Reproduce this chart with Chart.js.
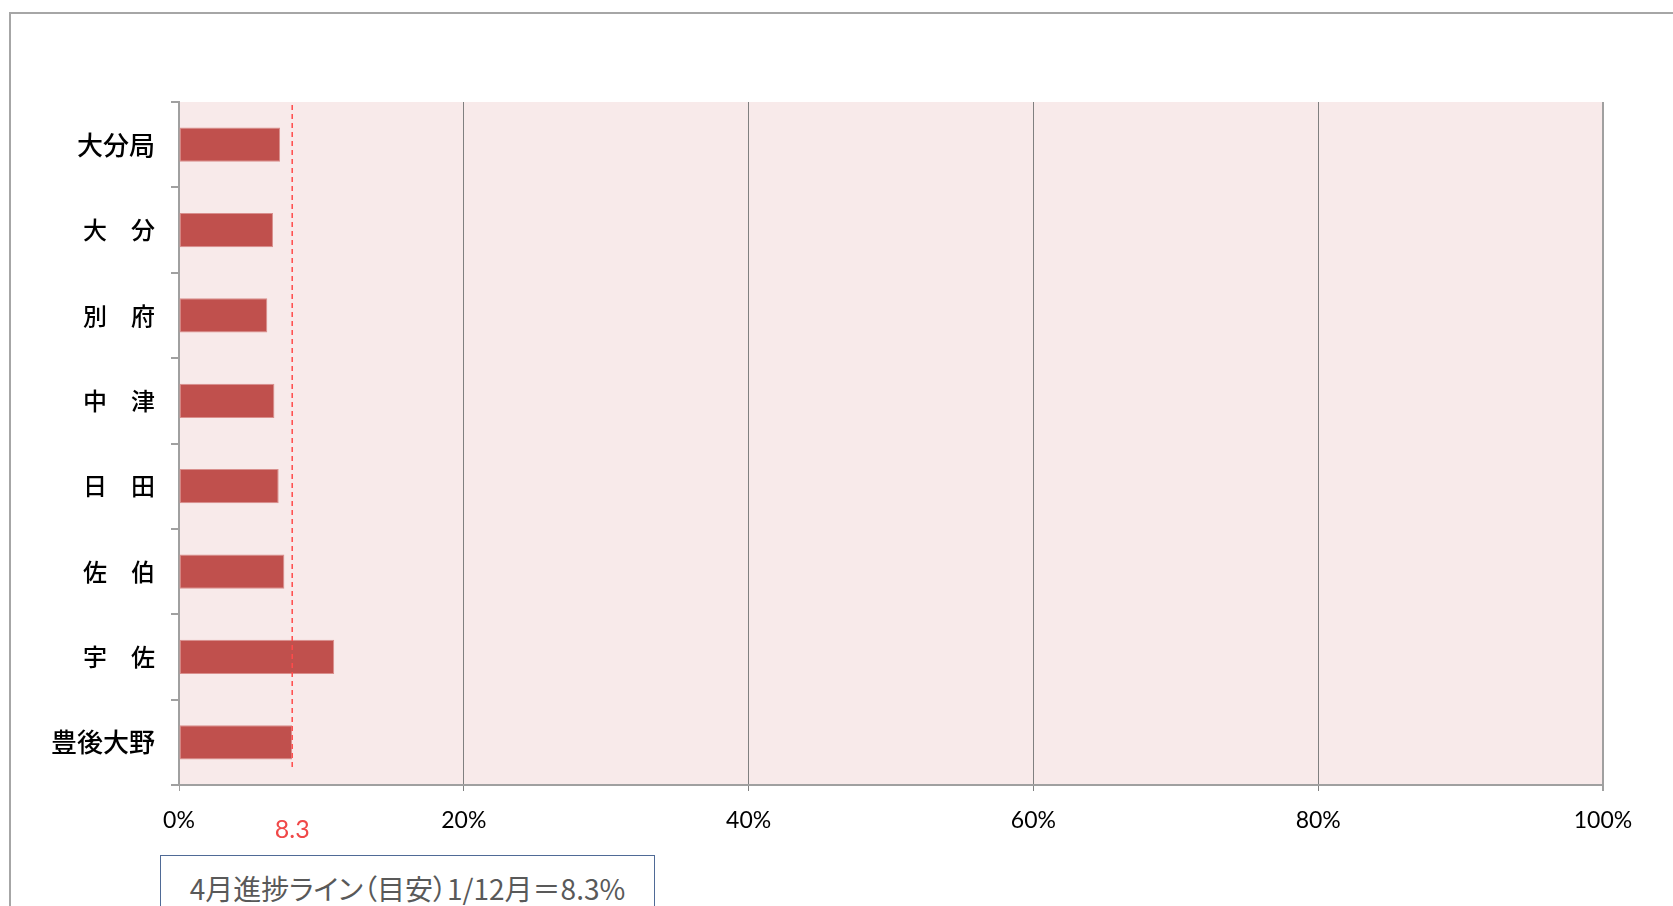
<!DOCTYPE html>
<html>
<head>
<meta charset="utf-8">
<script src="https://cdn.jsdelivr.net/npm/chart.js@4"></script>
<style>
  html,body{margin:0;padding:0;background:#fff;overflow:hidden;}
  #wrap{position:relative;width:1673px;height:906px;}
  #frame{position:absolute;left:9px;top:12px;width:1700px;height:1000px;border-top:2px solid #a6a6a6;border-left:2px solid #a6a6a6;pointer-events:none;}
  #note{position:absolute;left:160px;top:855px;width:495px;height:70px;border:1px solid #4f6a96;background:#fff;
        font-family:"Noto Sans CJK JP","Noto Sans",sans-serif;font-size:28px;color:#595959;text-align:center;line-height:64px;box-sizing:border-box;
        font-feature-settings:"palt";white-space:nowrap;}
  canvas{position:absolute;left:0;top:0;}
</style>
</head>
<body>
<div id="wrap">
  <canvas id="c" width="1673" height="906"></canvas>
  <div id="frame"></div>
  <div id="note">4月進捗ライン（目安）1/12月＝8.3%</div>
</div>
<script>
const categories = ["大分局", "大　分", "別　府", "中　津", "日　田", "佐　伯", "宇　佐", "豊後大野"];
const values = [7.1, 6.6, 6.2, 6.7, 7.0, 7.4, 10.9, 7.95];
const xTicks = [0, 20, 40, 60, 80, 100];
const guideValue = 7.95;
const guideLabel = "8.3";

const bgPlugin = {
  id: 'bg',
  beforeDraw(chart) {
    const {ctx, chartArea: a} = chart;
    ctx.save();
    ctx.fillStyle = '#f8eaea';
    ctx.fillRect(a.left, a.top, a.right - a.left, a.bottom - a.top);
    ctx.restore();
  },
  afterDatasetsDraw(chart) {
    const {ctx, chartArea: a, scales} = chart;
    const x = scales.x.getPixelForValue(guideValue);
    ctx.save();
    ctx.strokeStyle = '#ff4a4a';
    ctx.lineWidth = 1.5;
    ctx.setLineDash([5, 4]);
    ctx.beginPath();
    ctx.moveTo(x, a.top + 3);
    ctx.lineTo(x, a.bottom - 15);
    ctx.stroke();
    ctx.setLineDash([]);
    ctx.fillStyle = '#f04848';
    ctx.font = '25px Lato, "Noto Sans", sans-serif';
    ctx.textAlign = 'center';
    ctx.textBaseline = 'middle';
    ctx.fillText(guideLabel, x, a.bottom + 45);
    ctx.restore();
  }
};

new Chart(document.getElementById('c'), {
  type: 'bar',
  data: {
    labels: categories,
    datasets: [{
      data: values,
      backgroundColor: '#c0504d',
      borderColor: '#d98f8d',
      borderWidth: 1,
      borderSkipped: false,
      barPercentage: 0.4,
      categoryPercentage: 1.0
    }]
  },
  options: {
    indexAxis: 'y',
    responsive: false,
    animation: false,
    devicePixelRatio: 1,
    layout: {padding: {top: 102, right: 70, bottom: 0, left: 0}},
    plugins: {legend: {display: false}, tooltip: {enabled: false}},
    scales: {
      x: {
        min: 0, max: 100,
        afterBuildTicks(scale) { scale.ticks = xTicks.map(v => ({value: v})); },
        afterFit(scale) { scale.height = 906 - 785; },
        ticks: {
          callback: v => v + '%',
          color: '#000',
          font: {family: 'Lato, "Noto Sans", sans-serif', size: 23},
          padding: 16,
          maxRotation: 0
        },
        grid: {
          color: ctx => (ctx.tick && (ctx.tick.value === 100 || ctx.tick.value === 0)) ? '#a0a0a0' : '#808080',
          lineWidth: ctx => (ctx.tick && ctx.tick.value === 100) ? 2 : 1,
          tickLength: 6
        },
        border: {color: '#a0a0a0', width: 2}
      },
      y: {
        afterFit(scale) { scale.width = 179; },
        ticks: {
          color: '#000',
          font: ctx => ({family: '"Noto Sans CJK JP", sans-serif',
                         size: (ctx.index === 0 || ctx.index === categories.length - 1) ? 26 : 24,
                         weight: '500'}),
          padding: 16
        },
        grid: {offset: true, drawOnChartArea: false, color: '#a0a0a0', lineWidth: 2, tickLength: 8},
        border: {color: '#a0a0a0', width: 2}
      }
    }
  },
  plugins: [bgPlugin]
});
</script>
</body>
</html>
